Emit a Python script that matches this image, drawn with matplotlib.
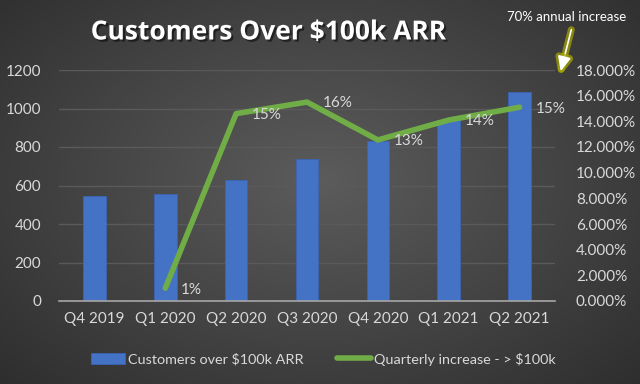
import numpy as np
import matplotlib
matplotlib.use('Agg')
import matplotlib.pyplot as plt
import matplotlib.patheffects as pe

quarters = ['Q4 2019', 'Q1 2020', 'Q2 2020', 'Q3 2020', 'Q4 2020', 'Q1 2021', 'Q2 2021']
customers = [548, 556, 630, 737, 830, 940, 1086]
qoq_pct = [None, 1.0, 14.6, 15.5, 12.55, 14.1, 15.1]
qoq_labels = ['', '1%', '15%', '16%', '13%', '14%', '15%']

plt.rcParams['font.family'] = ['Lato', 'DejaVu Sans']
txt = '#d9d9d9'

fig = plt.figure(figsize=(6.4, 3.84), dpi=100)

# dark radial background
bg = fig.add_axes([0, 0, 1, 1], zorder=-10)
yy, xx = np.mgrid[0:384, 0:640]
r = np.sqrt(((xx - 320) / 400.0) ** 2 + ((yy - 180) / 260.0) ** 2)
shade = np.clip(0.36 - 0.16 * r, 0.12, 0.4)
bg.imshow(np.dstack([shade, shade, shade]), aspect='auto', extent=[0, 1, 0, 1])
bg.axis('off')

ax = fig.add_axes([59 / 640, 1 - 301 / 384, 496 / 640, 231 / 384])
ax.set_facecolor('none')
x = np.arange(len(quarters))
bars = ax.bar(x, customers, width=0.32, color='#4472c4', edgecolor='#3a64b4', linewidth=0.6,
              label='Customers over $100k ARR', zorder=2)
ax.set_ylim(0, 1200)
ax.set_xlim(-0.5, len(quarters) - 0.5)
ax.set_yticks(range(0, 1201, 200))
ax.set_xticks(x)
ax.set_xticklabels(quarters)
ax.grid(axis='y', color='#5a5a5a', linewidth=1, zorder=0)
ax.set_axisbelow(True)
for s in ['top', 'right', 'left']:
    ax.spines[s].set_visible(False)
ax.spines['bottom'].set_color('#a6a6a6')
ax.spines['bottom'].set_linewidth(1.2)
ax.tick_params(length=0, colors=txt, labelsize=11)
ax.tick_params(axis='x', pad=8)
ax.tick_params(axis='y', pad=13)

ax2 = ax.twinx()
lx = [i for i, v in enumerate(qoq_pct) if v is not None]
ly = [v for v in qoq_pct if v is not None]
line, = ax2.plot(lx, ly, color='#70ad47', linewidth=4, solid_capstyle='round',
                 label='Quarterly increase - > $100k', zorder=3)
ax2.set_ylim(0, 18)
ax2.set_yticks(range(0, 19, 2))
ax2.set_yticklabels(['%.3f%%' % v for v in range(0, 19, 2)])
for s in ax2.spines.values():
    s.set_visible(False)
ax2.tick_params(length=0, colors=txt, labelsize=11, pad=15)
for xi, yi, lab in zip(x, qoq_pct, qoq_labels):
    if yi is None:
        continue
    ax2.annotate(lab, (xi, yi), xytext=(11.5, -1), textcoords='offset points',
                 color=txt, fontsize=11, va='center', ha='left')

fig.text(268 / 640, 1 - 32 / 384, 'Customers Over $100k ARR', color='white', fontsize=19,
         fontweight='bold', ha='center', va='center', family=['Open Sans', 'DejaVu Sans'],
         path_effects=[pe.withSimplePatchShadow(offset=(1.5, -1.5), shadow_rgbFace='black', alpha=0.5)])

# annotation with yellow glow arrow
fig.text(626 / 640, 1 - 17 / 384, '70% annual increase', color='white', fontsize=9.5, ha='right', va='center')
arr = matplotlib.patches.FancyArrowPatch(
    (572 / 640, 1 - 27 / 384), (560 / 640, 1 - 74 / 384), transform=fig.transFigure,
    arrowstyle='-|>,head_width=4,head_length=9', mutation_scale=1,
    color='white', linewidth=1.2)
arr.set_path_effects([pe.Stroke(linewidth=5, foreground='#a8a800', alpha=0.7), pe.Normal()])
fig.add_artist(arr)

fig.legend(handles=[bars, line], loc='center', bbox_to_anchor=(0.505, 0.065), ncol=2, frameon=False,
           fontsize=10.4, labelcolor=txt, handlelength=2.35, columnspacing=2.3, handletextpad=0.2)

fig.savefig('out.png', dpi=100)
